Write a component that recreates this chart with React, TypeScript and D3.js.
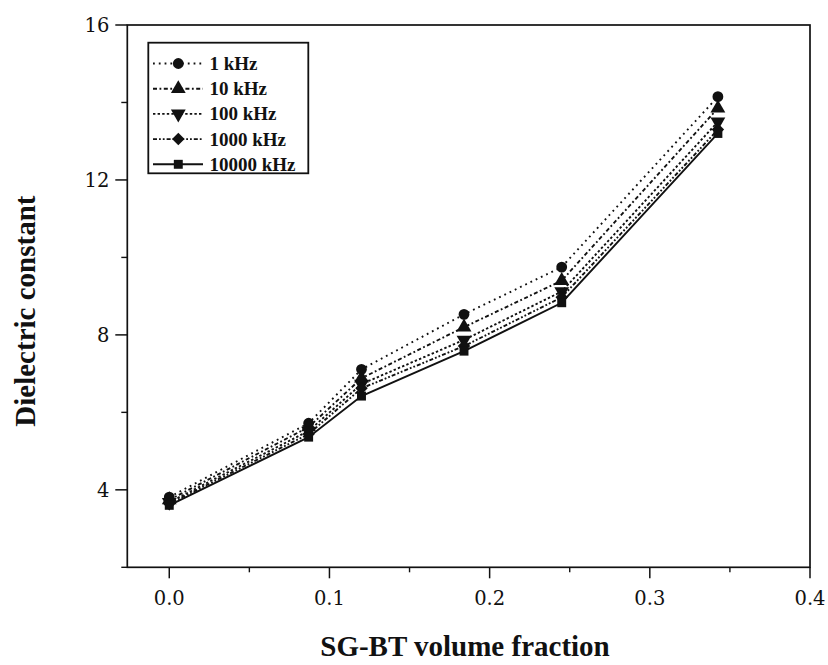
import React from "react";
import * as d3 from "d3";

// SG-BT volume fraction (x) and dielectric constant per frequency (y)
const fractions = [0, 0.087, 0.12, 0.184, 0.245, 0.3425];
const k1kHz = [3.81, 5.72, 7.11, 8.53, 9.75, 14.15];
const k10kHz = [3.74, 5.62, 6.88, 8.2, 9.4, 13.85];
const k100kHz = [3.68, 5.52, 6.73, 7.87, 9.12, 13.5];
const k1000kHz = [3.64, 5.44, 6.62, 7.71, 8.97, 13.3];
const k10000kHz = [3.6, 5.36, 6.42, 7.58, 8.83, 13.2];

const seriesLabels = ["1 kHz", "10 kHz", "100 kHz", "1000 kHz", "10000 kHz"];
const xMajorTicks = [0, 0.1, 0.2, 0.3, 0.4];
const xMinorTicks = [0.05, 0.15, 0.25, 0.35];
const yMajorTicks = [4, 8, 12, 16];
const yMinorTicks = [2, 6, 10, 14];

const W = 828;
const H = 665;
const left = 127.3;
const right = 810;
const top = 25;
const bottom = 567.3;

const x = d3.scaleLinear().domain([-0.0262, 0.4]).range([left, right]);
const y = d3.scaleLinear().domain([2, 16]).range([bottom, top]);

type Style = { dash: string; symbol: d3.SymbolType; size: number; rotate: number };

const styles: Style[] = [
  { dash: "1.8,4", symbol: d3.symbolCircle, size: 92, rotate: 0 },
  { dash: "4,2.5,1.8,2.5", symbol: d3.symbolTriangle, size: 95, rotate: 0 },
  { dash: "2.4,2.2", symbol: d3.symbolTriangle, size: 95, rotate: 180 },
  { dash: "4,2,1.8,2,1.8,2", symbol: d3.symbolSquare, size: 78, rotate: 45 },
  { dash: "", symbol: d3.symbolSquare, size: 80, rotate: 0 },
];

const seriesValues = [k1kHz, k10kHz, k100kHz, k1000kHz, k10000kHz];

const serif = "'Liberation Serif', 'Times New Roman', serif";
const tickFont = "'DejaVu Serif', serif";

export default function App() {
  const line = d3
    .line<[number, number]>()
    .x((d) => x(d[0]))
    .y((d) => y(d[1]));

  const legendX = 148.3;
  const legendY = 42.7;
  const legendW = 160;
  const legendH = 130.6;
  const rowY = (i: number) => 63.5 + i * 25.2;

  return (
    <svg
      width={W}
      height={H}
      viewBox={`0 0 ${W} ${H}`}
      style={{ position: "absolute", left: 0, top: 0, background: "#fff" }}
    >
      <rect x={0} y={0} width={W} height={H} fill="#fff" />

      {/* frame */}
      <rect
        x={left}
        y={top}
        width={right - left}
        height={bottom - top}
        fill="none"
        stroke="#111"
        strokeWidth={1.7}
      />

      {/* x ticks */}
      {xMajorTicks.map((t) => (
        <g key={`xm${t}`}>
          <line x1={x(t)} x2={x(t)} y1={bottom} y2={bottom + 11} stroke="#111" strokeWidth={1.5} />
          <text
            x={x(t)}
            y={bottom + 38}
            textAnchor="middle"
            fontFamily={tickFont}
            fontSize={19.5}
            fill="#111"
          >
            {t.toFixed(1)}
          </text>
        </g>
      ))}
      {xMinorTicks.map((t) => (
        <line key={`xn${t}`} x1={x(t)} x2={x(t)} y1={bottom} y2={bottom + 5} stroke="#111" strokeWidth={1.4} />
      ))}

      {/* y ticks */}
      {yMajorTicks.map((t) => (
        <g key={`ym${t}`}>
          <line x1={left - 12} x2={left} y1={y(t)} y2={y(t)} stroke="#111" strokeWidth={1.5} />
          <text
            x={left - 18}
            y={y(t) + 7}
            textAnchor="end"
            fontFamily={tickFont}
            fontSize={19.5}
            fill="#111"
          >
            {t}
          </text>
        </g>
      ))}
      {yMinorTicks.map((t) => (
        <line key={`yn${t}`} x1={left - 6} x2={left} y1={y(t)} y2={y(t)} stroke="#111" strokeWidth={1.4} />
      ))}

      {/* series lines */}
      {seriesValues.map((vals, i) => {
        const pts = fractions.map((f, j) => [f, vals[j]] as [number, number]);
        return (
          <path
            key={`l${i}`}
            d={line(pts) || ""}
            fill="none"
            stroke="#111"
            strokeWidth={1.9}
            strokeDasharray={styles[i].dash || undefined}
          />
        );
      })}

      {/* series markers */}
      {seriesValues.map((vals, i) =>
        fractions.map((f, j) => (
          <path
            key={`m${i}-${j}`}
            d={d3.symbol().type(styles[i].symbol).size(styles[i].size)() || ""}
            transform={`translate(${x(f)},${y(vals[j])}) rotate(${styles[i].rotate})`}
            fill="#111"
          />
        ))
      )}

      {/* legend */}
      <rect
        x={legendX}
        y={legendY}
        width={legendW}
        height={legendH}
        fill="#fff"
        stroke="#111"
        strokeWidth={1.8}
      />
      {seriesLabels.map((label, i) => (
        <g key={`lg${i}`}>
          <line
            x1={153}
            x2={203}
            y1={rowY(i)}
            y2={rowY(i)}
            stroke="#111"
            strokeWidth={1.9}
            strokeDasharray={styles[i].dash || undefined}
          />
          <path
            d={d3.symbol().type(styles[i].symbol).size(styles[i].size)() || ""}
            transform={`translate(178.3,${rowY(i)}) rotate(${styles[i].rotate})`}
            fill="#111"
          />
          <text
            x={209.5}
            y={rowY(i) + 6.5}
            fontFamily={serif}
            fontWeight="bold"
            fontSize={19}
            fill="#111"
          >
            {label}
          </text>
        </g>
      ))}

      {/* axis titles */}
      <text
        x={465}
        y={656}
        textAnchor="middle"
        fontFamily={serif}
        fontWeight="bold"
        fontSize={29}
        fill="#111"
      >
        SG-BT volume fraction
      </text>
      <text
        transform={`translate(35,${(top + bottom) / 2 + 15}) rotate(-90)`}
        textAnchor="middle"
        fontFamily={serif}
        fontWeight="bold"
        fontSize={29}
        fill="#111"
      >
        Dielectric constant
      </text>
    </svg>
  );
}
